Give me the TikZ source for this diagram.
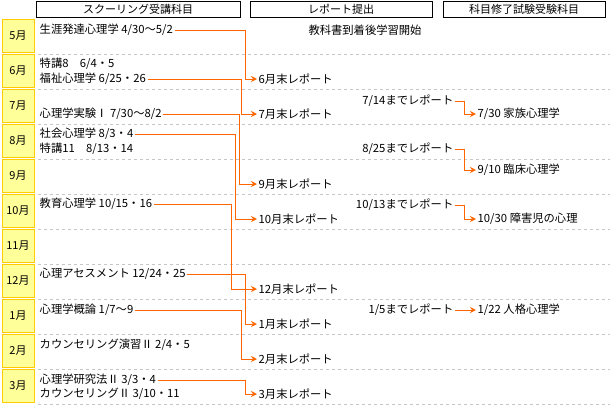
\documentclass[tikz,border=0pt]{standalone}
\usepackage{fontspec}
\setmainfont{Noto Sans CJK JP}
\usetikzlibrary{arrows.meta}
\definecolor{arrorange}{HTML}{FF6600}
\definecolor{monthfill}{HTML}{FFFF99}
\definecolor{monthline}{HTML}{FFCC00}
\tikzset{
  txt/.style={anchor=west,inner sep=1.5pt,font=\fontsize{11.3}{13}\selectfont},
  rtxt/.style={txt,anchor=east},
  head/.style={draw,thick,minimum height=16pt,inner sep=1pt,font=\fontsize{11}{12}\selectfont},
  month/.style={draw=monthline,fill=monthfill,thick,minimum width=32pt,minimum height=33pt,font=\fontsize{11}{12}\selectfont},
  arr/.style={draw=arrorange,line width=1pt,-{Stealth[length=6pt,width=6pt]}},
  sep/.style={draw=gray!45,dashed,line width=0.8pt}
}
\begin{document}
\begin{tikzpicture}[x=1pt,y=-1pt]
  \useasboundingbox (0,0) rectangle (610,405);
  % headers
  \node[head,minimum width=204pt] (h1) at (138,9) {スクーリング受講科目};
  \node[head,minimum width=182pt] (h2) at (341,9) {レポート提出};
  \node[head,minimum width=162pt] (h3) at (524,9) {科目修了試験受験科目};
  % months and separators
  \foreach \m [count=\i from 0] in {5月,6月,7月,8月,9月,10月,11月,12月,1月,2月,3月}{
    \node[month] (m\i) at (18,{36+35*\i}) {\m};
    \draw[sep] (38,{54+35*\i}) -- (610,{54+35*\i});
  }
  % schooling
  \node[txt] (s5) at (38,30) {生涯発達心理学 4/30〜5/2};
  \node[txt] (s6a) at (38,64) {特講8　6/4・5};
  \node[txt] (s6) at (38,79) {福祉心理学 6/25・26};
  \node[txt] (s7) at (38,114) {心理学実験Ⅰ 7/30〜8/2};
  \node[txt] (s8) at (38,134) {社会心理学 8/3・4};
  \node[txt] (s8b) at (38,149) {特講11　8/13・14};
  \node[txt] (s10) at (38,204) {教育心理学 10/15・16};
  \node[txt] (s12) at (38,274) {心理アセスメント 12/24・25};
  \node[txt] (s1) at (38,310) {心理学概論 1/7〜9};
  \node[txt] (s2) at (38,345) {カウンセリング演習Ⅱ 2/4・5};
  \node[txt] (s3) at (38,380) {心理学研究法Ⅱ 3/3・4};
  \node[txt] (s3b) at (38,394) {カウンセリングⅡ 3/10・11};
  % reports
  \node[txt,anchor=center] (start) at (365,30) {教科書到着後学習開始};
  \node[txt] (r6) at (257,79) {6月末レポート};
  \node[txt] (r7) at (257,114) {7月末レポート};
  \node[txt] (r9) at (257,184) {9月末レポート};
  \node[txt] (r10) at (257,219) {10月末レポート};
  \node[txt] (r12) at (257,289) {12月末レポート};
  \node[txt] (r1) at (257,324) {1月末レポート};
  \node[txt] (r2) at (257,359) {2月末レポート};
  \node[txt] (r3) at (257,394) {3月末レポート};
  \node[rtxt] (d7) at (455,101) {7/14までレポート};
  \node[rtxt] (d8) at (455,149) {8/25までレポート};
  \node[rtxt] (d10) at (455,205) {10/13までレポート};
  \node[rtxt] (d1) at (455,310) {1/5までレポート};
  % exams
  \node[txt] (e7) at (476,114) {7/30 家族心理学};
  \node[txt] (e9) at (476,170) {9/10 臨床心理学};
  \node[txt] (e10) at (476,219) {10/30 障害児の心理};
  \node[txt] (e1) at (476,310) {1/22 人格心理学};
  % bend columns
  \coordinate (xa) at (245,0);
  \coordinate (xb) at (241,0);
  \coordinate (xc) at (239,0);
  \coordinate (xd) at (235,0);
  \coordinate (xe) at (231,0);
  \coordinate (xr) at (464,0);
  % connectors
  \draw[arr] (s5.east) -- (s5.east -| xa) |- (r6.west);
  \draw[arr] (s6.east) -- (s6.east -| xb) |- (r7.west);
  \draw[arr] (s7.east) -- (s7.east -| xc) |- (r9.west);
  \draw[arr] (s8.east) -- (s8.east -| xd) |- (r10.west);
  \draw[arr] (s10.east) -- (s10.east -| xe) |- (r12.west);
  \draw[arr] (s12.east) -- (s12.east -| xa) |- (r1.west);
  \draw[arr] (s1.east) -- (s1.east -| xb) |- (r2.west);
  \draw[arr] (s3.east) -- (s3.east -| xa) |- (r3.west);
  \draw[arr] (d7.east) -- (d7.east -| xr) |- (e7.west);
  \draw[arr] (d8.east) -- (d8.east -| xr) |- (e9.west);
  \draw[arr] (d10.east) -- (d10.east -| xr) |- (e10.west);
  \draw[arr] (d1.east) -- (e1.west);
\end{tikzpicture}
\end{document}
